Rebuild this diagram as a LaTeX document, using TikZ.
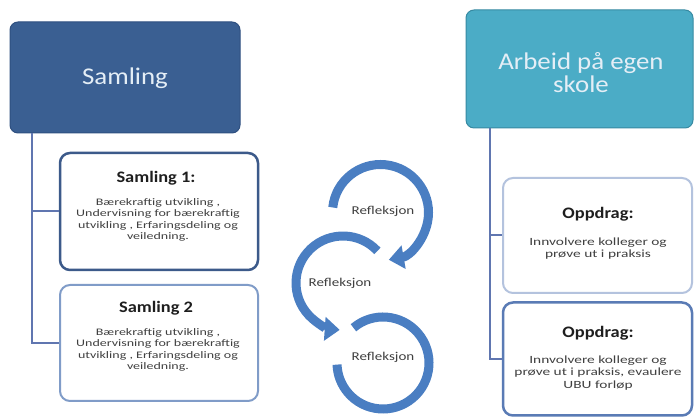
\documentclass[tikz,border=0pt]{standalone}
\usepackage{fontspec}
\setmainfont{Carlito}
\newfontfamily\titlefont[FakeStretch=1.12]{Carlito}
\newfontfamily\subfont[FakeStretch=1.15]{Carlito}
\newfontfamily\bodyfont[FakeStretch=1.4]{Carlito}
\newfontfamily\refont[FakeStretch=1.25]{Carlito}
\usetikzlibrary{arrows.meta}
\definecolor{samfill}{RGB}{58,95,146}
\definecolor{samdraw}{RGB}{47,80,128}
\definecolor{arbfill}{RGB}{75,172,198}
\definecolor{arbdraw}{RGB}{55,138,162}
\definecolor{titletxt}{RGB}{228,238,246}
\definecolor{darkedge}{RGB}{60,90,138}
\definecolor{lightedge}{RGB}{128,156,200}
\definecolor{paleedge}{RGB}{180,195,222}
\definecolor{midedge}{RGB}{90,123,181}
\definecolor{connc}{RGB}{96,118,176}
\definecolor{arcc}{RGB}{74,126,194}
\definecolor{bodytxt}{RGB}{64,64,64}
\definecolor{headtxt}{RGB}{30,30,30}
\tikzset{
  topbox/.style={draw, line width=1pt, rounded corners=8pt, inner sep=0pt},
  subbox/.style={draw, fill=white, line width=2pt, rounded corners=10pt, inner sep=0pt},
  titletext/.style={text=titletxt, align=center, inner sep=0pt, font=\titlefont\fontsize{24}{23}\selectfont},
  headtext/.style={text=headtxt, inner sep=0pt, font=\subfont\bfseries\fontsize{16}{18}\selectfont},
  bodytext/.style={text=bodytxt, align=center, inner sep=0pt, font=\bodyfont\fontsize{10}{11.5}\selectfont},
  opptext/.style={text=bodytxt, align=center, inner sep=0pt, font=\bodyfont\fontsize{11}{12.5}\selectfont},
  reftext/.style={text=bodytxt, inner sep=0pt, font=\refont\fontsize{12}{14}\selectfont},
  conn/.style={draw=connc, line width=2pt},
  cyc/.style={draw=arcc, line width=9pt},
  cyctip/.style={-{Triangle[width=23pt,length=15pt]}}
}
\begin{document}
\begin{tikzpicture}[x=1pt,y=1pt]
\useasboundingbox[fill=white] (0,0) rectangle (695,419);
% top boxes
\node[topbox, fill=samfill, draw=samdraw, minimum width=230pt, minimum height=111pt] (sam) at (125,341.5) {};
\node[titletext] (samt) at (125,341) {Samling};
\node[topbox, fill=arbfill, draw=arbdraw, minimum width=227pt, minimum height=118pt] (arb) at (579.5,350) {};
\node[titletext] (arbt) at (581,346) {Arbeid på egen\\skole};
% sub boxes left
\node[subbox, draw=darkedge, line width=2.5pt, minimum width=198pt, minimum height=117pt] (s1) at (159,207.5) {};
\node[headtext] (s1h) at (156,241) {Samling 1:};
\node[bodytext] (s1b) at (158,199) {Bærekraftig utvikling ,\\Undervisning for bærekraftig\\utvikling , Erfaringsdeling og\\veiledning.};
\node[subbox, draw=lightedge, minimum width=198pt, minimum height=116pt] (s2) at (159,76) {};
\node[headtext] (s2h) at (156,111) {Samling 2};
\node[bodytext] (s2b) at (158,69) {Bærekraftig utvikling ,\\Undervisning for bærekraftig\\utvikling , Erfaringsdeling og\\veiledning.};
% sub boxes right
\node[subbox, draw=paleedge, minimum width=189pt, minimum height=115pt] (o1) at (597.5,183.5) {};
\node[headtext] (o1h) at (598,205) {Oppdrag:};
\node[opptext] (o1b) at (598,170.5) {Innvolvere kolleger og\\prøve ut i praksis};
\node[subbox, draw=midedge, line width=2.5pt, minimum width=189pt, minimum height=113pt] (o2) at (597.5,60) {};
\node[headtext] (o2h) at (598,86) {Oppdrag:};
\node[opptext] (o2b) at (598,46) {Innvolvere kolleger og\\prøve ut i praksis, evaulere\\UBU forløp};
% connectors
\coordinate (lt) at ([xshift=22pt]sam.south west);
\coordinate (rt) at ([xshift=24pt]arb.south west);
\draw[conn] (lt) |- (s1.west);
\draw[conn] (lt) |- (s2.west);
\draw[conn] (rt) |- (o1.west);
\draw[conn] (rt) |- (o2.west);
% cycle arrows
\coordinate (c1) at (380.5,206.5);
\coordinate (c2) at (343,136);
\coordinate (c3) at (383,56);
\draw[cyc, cyctip] ([shift={(174:48)}]c1) arc[start angle=174, end angle=-80, radius=48];
\draw[cyc, cyctip] ([shift={(43:47)}]c2) arc[start angle=43, end angle=266, radius=47];
\draw[cyc] ([shift={(130:46)}]c3) arc[start angle=130, end angle=-178, radius=46];
\node[reftext] (r1) at (383,208) {Refleksjon};
\node[reftext] (r2) at (340,136) {Refleksjon};
\node[reftext] (r3) at (383,62) {Refleksjon};
\end{tikzpicture}
\end{document}
